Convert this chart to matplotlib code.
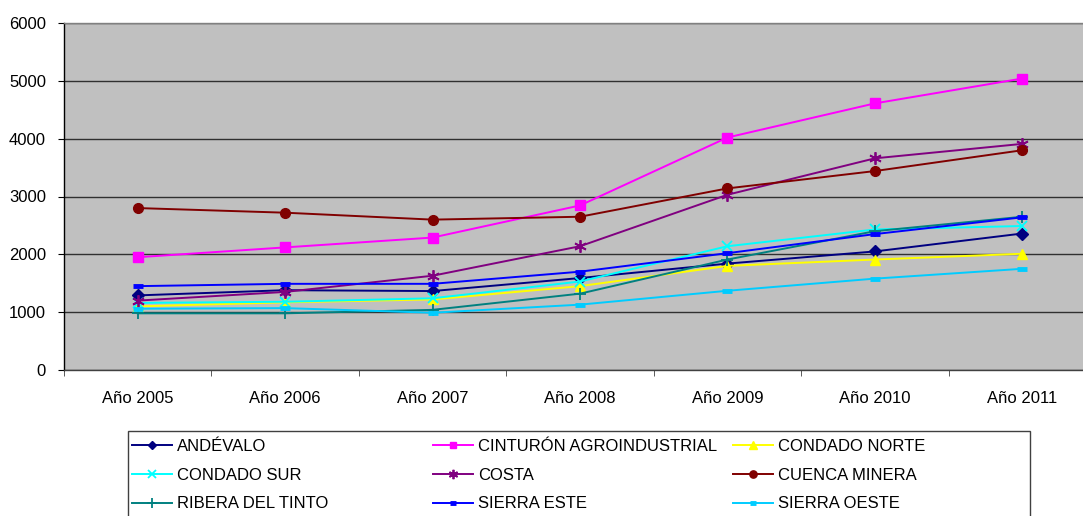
import matplotlib.pyplot as plt
from matplotlib.patches import Rectangle
from matplotlib.ticker import FixedLocator

# =========================================================
# DATA
# =========================================================
years = ["Año 2005", "Año 2006", "Año 2007", "Año 2008", "Año 2009", "Año 2010", "Año 2011"]

andevalo = [1290, 1380, 1365, 1590, 1840, 2050, 2360]
cinturon = [1950, 2120, 2290, 2845, 4020, 4610, 5040]
condado_norte = [1100, 1170, 1220, 1450, 1800, 1910, 2010]
condado_sur = [1160, 1180, 1240, 1530, 2140, 2430, 2490]
costa = [1200, 1350, 1630, 2140, 3030, 3660, 3910]
cuenca_minera = [2800, 2720, 2600, 2650, 3140, 3440, 3800]
ribera_tinto = [980, 980, 1040, 1320, 1910, 2400, 2650]
sierra_este = [1450, 1490, 1490, 1700, 2020, 2350, 2640]
sierra_oeste = [1060, 1070, 990, 1130, 1370, 1580, 1750]

series = [
    ("ANDÉVALO", andevalo, "#000080", "D", 6),
    ("CINTURÓN AGROINDUSTRIAL", cinturon, "#FF00FF", "s", 6.5),
    ("CONDADO NORTE", condado_norte, "#FFFF00", "^", 7.5),
    ("CONDADO SUR", condado_sur, "#00FFFF", "x", 7.5),
    ("COSTA", costa, "#800080", (6, 2, 0), 9),
    ("CUENCA MINERA", cuenca_minera, "#800000", "o", 7),
    ("RIBERA DEL TINTO", ribera_tinto, "#008080", "+", 9),
    ("SIERRA ESTE", sierra_este, "#0000FF", "_", 6.5),
    ("SIERRA OESTE", sierra_oeste, "#00CCFF", "_", 6.5),
]

plt.rcParams['font.family'] = ['Liberation Sans', 'DejaVu Sans']

W, H = 1083, 516
fig = plt.figure(figsize=(W / 100, H / 100), dpi=100)

# plot area runs past the right edge of the picture, like the original
left, right, top, bottom = 64, 1096, 23, 370
ax = fig.add_axes([left / W, 1 - bottom / H, (right - left) / W, (bottom - top) / H])
ax.set_facecolor("#C0C0C0")

x = list(range(len(years)))
handles = []
for name, vals, color, marker, ms in series:
    kw = dict(color=color, linewidth=1.4, marker=marker, markersize=ms, label=name)
    if marker == "_":
        kw.update(markeredgewidth=3.5)
    elif marker in ("x", "+") or isinstance(marker, tuple):
        kw.update(markeredgewidth=1.3)
    line, = ax.plot(x, vals, **kw)
    handles.append(line)

ax.set_xlim(-0.5, len(years) - 0.5)
ax.set_ylim(0, 6000)
ax.set_yticks(range(0, 6001, 1000))
ax.yaxis.grid(True, color="#303030", linewidth=1)
ax.set_axisbelow(True)

ax.set_xticks(x)
ax.set_xticklabels(years)
ax.xaxis.set_minor_locator(FixedLocator([i - 0.5 for i in range(len(years) + 1)]))
ax.tick_params(axis="x", which="major", length=0, pad=15, labelsize=12)
ax.tick_params(axis="x", which="minor", length=4, direction="out", color="#404040")
ax.tick_params(axis="y", length=4, direction="out", pad=9, labelsize=12)

ax.spines["right"].set_visible(False)
ax.spines["top"].set_color("#808080")
ax.spines["bottom"].set_color("#404040")
ax.spines["left"].set_color("black")
for s in ax.spines.values():
    s.set_linewidth(1)

# =========================================================
# LEGEND: three columns with equal pitch, inside one frame
# =========================================================
fig.patches.append(Rectangle((128 / W, 1 - 560 / H), (1030 - 128) / W, (560 - 431) / H,
                             transform=fig.transFigure, facecolor="white",
                             edgecolor="#404040", linewidth=1, zorder=0))
col_x = [132, 433, 733]
for c in range(3):
    hs = handles[c::3]
    leg = fig.legend(handles=hs, labels=[h.get_label() for h in hs],
                     loc="upper left", bbox_to_anchor=(col_x[c] / W, 1 - 439 / H),
                     frameon=False, fontsize=12, handlelength=2.4, markerscale=0.75,
                     handletextpad=0.3, labelspacing=0.82, borderpad=0,
                     borderaxespad=0)

fig.savefig("out.png", dpi=100)
